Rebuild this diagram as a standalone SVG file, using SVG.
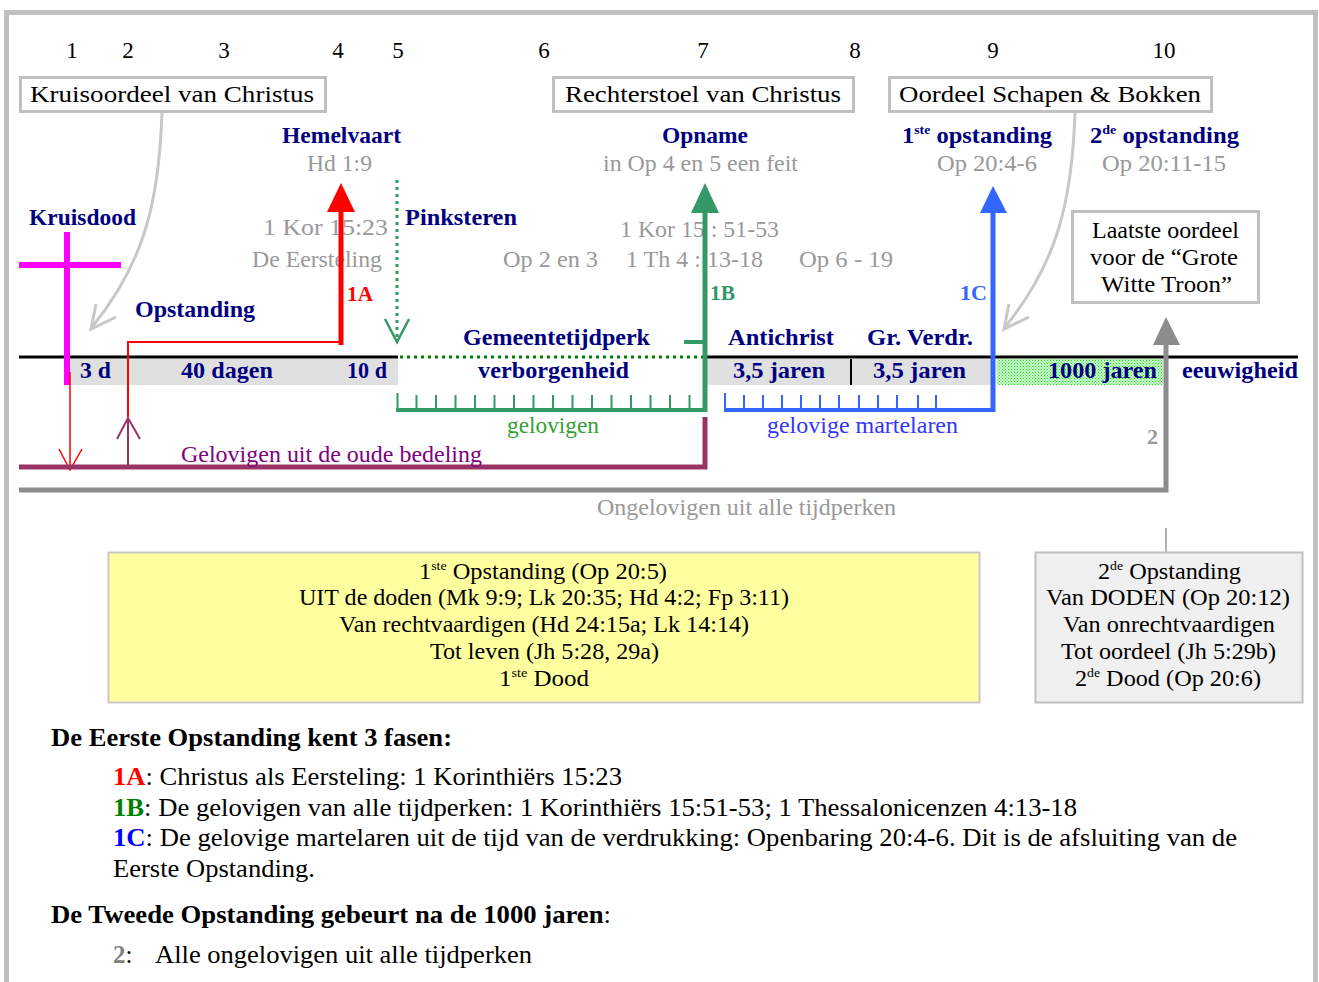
<svg xmlns="http://www.w3.org/2000/svg" width="1319" height="982" viewBox="0 0 1319 982">
<style>
text{font-family:"Liberation Serif","Times New Roman",serif}
.n{font-size:23px;fill:#000;text-anchor:middle}
.t{font-size:23px;fill:#000}
.b{font-size:23px;font-weight:bold;fill:#000080}
.g{font-size:23px;fill:#999}
.box{fill:#fff;stroke:#c0c0c0;stroke-width:3}
.p{font-size:25px;fill:#000}
.pb{font-size:25px;font-weight:bold;fill:#000}
</style>
<defs>
<pattern id="grn" width="3" height="3" patternUnits="userSpaceOnUse"><rect width="3" height="3" fill="#d8f8d8"/><rect width="1" height="1" fill="#00ee00"/><rect x="1.5" y="1.5" width="1" height="1" fill="#00ee00"/></pattern>
</defs>
<rect width="1319" height="982" fill="#fff"/>
<path d="M6.5,990 V12.5 H1315.5 V990" fill="none" stroke="#c0c0c0" stroke-width="5"/>

<g id="numbers">
<text class="n" x="72" y="58">1</text><text class="n" x="128" y="58">2</text><text class="n" x="224" y="58">3</text><text class="n" x="338" y="58">4</text><text class="n" x="398" y="58">5</text><text class="n" x="544" y="58">6</text><text class="n" x="703" y="58">7</text><text class="n" x="855" y="58">8</text><text class="n" x="993" y="58">9</text><text class="n" x="1164" y="58">10</text>
</g>

<g id="kruisoordeel"><rect class="box" x="20.5" y="77.5" width="305" height="34"/><text class="t" x="30" y="102" textLength="284" lengthAdjust="spacingAndGlyphs">Kruisoordeel van Christus</text></g>
<g id="rechterstoel"><rect class="box" x="553.5" y="77.5" width="300" height="34"/><text class="t" x="565" y="102" textLength="276" lengthAdjust="spacingAndGlyphs">Rechterstoel van Christus</text></g>
<g id="oordeel"><rect class="box" x="889.5" y="77.5" width="322" height="34"/><text class="t" x="899" y="102" textLength="302" lengthAdjust="spacingAndGlyphs">Oordeel Schapen &amp; Bokken</text></g>
<g id="laatste"><rect class="box" x="1072.5" y="211.5" width="186" height="91"/>
<text class="t" x="1092" y="238" textLength="147" lengthAdjust="spacingAndGlyphs">Laatste oordeel</text>
<text class="t" x="1090" y="265" textLength="148" lengthAdjust="spacingAndGlyphs">voor de “Grote</text>
<text class="t" x="1101" y="292" textLength="131" lengthAdjust="spacingAndGlyphs">Witte Troon”</text></g>

<g id="labels">
<text class="b" x="282" y="143" textLength="119" lengthAdjust="spacingAndGlyphs">Hemelvaart</text>
<text class="g" x="307" y="171" textLength="65" lengthAdjust="spacingAndGlyphs">Hd 1:9</text>
<text class="b" x="29" y="225" textLength="107" lengthAdjust="spacingAndGlyphs">Kruisdood</text>
<text class="g" x="263" y="235" textLength="125" lengthAdjust="spacingAndGlyphs">1 Kor 15:23</text>
<text class="g" x="252" y="267" textLength="130" lengthAdjust="spacingAndGlyphs">De Eersteling</text>
<text x="347" y="301" font-size="22" font-weight="bold" fill="#ff0000" textLength="26" lengthAdjust="spacingAndGlyphs">1A</text>
<text class="b" x="135" y="317" textLength="120" lengthAdjust="spacingAndGlyphs">Opstanding</text>
<text class="b" x="405" y="225" textLength="112" lengthAdjust="spacingAndGlyphs">Pinksteren</text>
<text class="b" x="662" y="143" textLength="86" lengthAdjust="spacingAndGlyphs">Opname</text>
<text class="g" x="603" y="171" textLength="195" lengthAdjust="spacingAndGlyphs">in Op 4 en 5 een feit</text>
<text class="g" x="620" y="237" textLength="159" lengthAdjust="spacingAndGlyphs">1 Kor 15 : 51-53</text>
<text class="g" x="503" y="267" textLength="95" lengthAdjust="spacingAndGlyphs">Op 2 en 3</text>
<text class="g" x="626" y="267" textLength="137" lengthAdjust="spacingAndGlyphs">1 Th 4 : 13-18</text>
<text class="g" x="799" y="267" textLength="94" lengthAdjust="spacingAndGlyphs">Op 6 - 19</text>
<text x="710" y="300" font-size="22" font-weight="bold" fill="#339966" textLength="25" lengthAdjust="spacingAndGlyphs">1B</text>
<text class="b" x="902" y="143" textLength="150" lengthAdjust="spacingAndGlyphs">1<tspan font-size="13" dy="-9">ste</tspan><tspan dy="9"> opstanding</tspan></text>
<text class="g" x="937" y="171" textLength="100" lengthAdjust="spacingAndGlyphs">Op 20:4-6</text>
<text class="b" x="1090" y="143" textLength="149" lengthAdjust="spacingAndGlyphs">2<tspan font-size="13" dy="-9">de</tspan><tspan dy="9"> opstanding</tspan></text>
<text class="g" x="1102" y="171" textLength="124" lengthAdjust="spacingAndGlyphs">Op 20:11-15</text>
<text x="960" y="300" font-size="22" font-weight="bold" fill="#3366ff" textLength="27" lengthAdjust="spacingAndGlyphs">1C</text>
<text class="b" x="463" y="345" textLength="187" lengthAdjust="spacingAndGlyphs">Gemeentetijdperk</text>
<text class="b" x="728" y="345" textLength="106" lengthAdjust="spacingAndGlyphs">Antichrist</text>
<text class="b" x="867" y="345" textLength="106" lengthAdjust="spacingAndGlyphs">Gr. Verdr.</text>
</g>

<g id="timeline">
<rect x="70" y="359" width="328" height="26" fill="#e0e0e0"/>
<rect x="707" y="359" width="288" height="26" fill="#e0e0e0"/>
<rect x="997" y="359" width="166" height="26" fill="url(#grn)"/>
<line x1="19" y1="357" x2="398" y2="357" stroke="#000" stroke-width="3"/>
<line x1="400" y1="357" x2="704" y2="357" stroke="#008000" stroke-width="3" stroke-dasharray="3 4"/>
<line x1="705" y1="357" x2="1298" y2="357" stroke="#000" stroke-width="3"/>
<line x1="851" y1="359" x2="851" y2="385" stroke="#000" stroke-width="2"/>
<text class="b" x="80" y="378" textLength="31" lengthAdjust="spacingAndGlyphs">3 d</text>
<text class="b" x="181" y="378" textLength="92" lengthAdjust="spacingAndGlyphs">40 dagen</text>
<text class="b" x="347" y="378" textLength="40" lengthAdjust="spacingAndGlyphs">10 d</text>
<text class="b" x="478" y="378" textLength="151" lengthAdjust="spacingAndGlyphs">verborgenheid</text>
<text class="b" x="733" y="378" textLength="92" lengthAdjust="spacingAndGlyphs">3,5 jaren</text>
<text class="b" x="873" y="378" textLength="93" lengthAdjust="spacingAndGlyphs">3,5 jaren</text>
<text class="b" x="1048" y="378" textLength="109" lengthAdjust="spacingAndGlyphs">1000 jaren</text>
<text class="b" x="1182" y="378" textLength="116" lengthAdjust="spacingAndGlyphs">eeuwigheid</text>
</g>

<g id="connectors" fill="none">
<line x1="67" y1="232" x2="67" y2="385" stroke="#ff00ff" stroke-width="6"/>
<line x1="19" y1="265" x2="121" y2="265" stroke="#ff00ff" stroke-width="6"/>
<line x1="70" y1="372" x2="70" y2="467" stroke="#ff0000" stroke-width="1.5"/>
<polyline points="59,449 70,470 82,449" stroke="#ff0000" stroke-width="1.5"/>
<path d="M162,113 C159,200 145,262 92,327" stroke="#c8c8c8" stroke-width="3"/>
<polyline points="96,304 91,329 116,317" stroke="#c8c8c8" stroke-width="3"/>
<path d="M1075,113 C1072,200 1058,262 1005,327" stroke="#c8c8c8" stroke-width="3"/>
<polyline points="1009,304 1004,329 1029,317" stroke="#c8c8c8" stroke-width="3"/>
<line x1="341" y1="210" x2="341" y2="345" stroke="#ff0000" stroke-width="5"/>
<polygon points="341,183 327,212 355,212" fill="#ff0000"/>
<polyline points="343,342 128,342 128,417" stroke="#ff0000" stroke-width="2"/>
<polyline points="19,467 705,467 705,417" stroke="#993366" stroke-width="5"/>
<line x1="128" y1="418" x2="128" y2="467" stroke="#993366" stroke-width="2"/>
<polyline points="117,439 128,418 140,439" stroke="#993366" stroke-width="2"/>
<line x1="397" y1="180" x2="397" y2="338" stroke="#339966" stroke-width="3" stroke-dasharray="3 4"/>
<polyline points="385,319 397,342 409,319" stroke="#339966" stroke-width="2.5"/>
<line x1="705" y1="210" x2="705" y2="412" stroke="#339966" stroke-width="5"/>
<polygon points="705,183 691,213 719,213" fill="#339966"/>
<line x1="684" y1="342" x2="705" y2="342" stroke="#339966" stroke-width="4"/>
<line x1="396" y1="410" x2="707" y2="410" stroke="#339966" stroke-width="4"/>
<path d="M397.5,393V410M416.5,395V410M436,395V410M455.5,395V410M475,395V410M494.5,395V410M514,395V410M533.5,395V410M553,395V410M572.5,395V410M592,395V410M611.5,395V410M631,395V410M650.5,395V410M670,395V410M689.5,395V410" stroke="#339966" stroke-width="2"/>
<line x1="993" y1="210" x2="993" y2="412" stroke="#3366ff" stroke-width="5"/>
<polygon points="993,186 980,213 1007,213" fill="#3366ff"/>
<line x1="724" y1="410" x2="995" y2="410" stroke="#3366ff" stroke-width="4"/>
<path d="M725,393V410M744,395V410M763,395V410M782,395V410M801,395V410M820,395V410M839,395V410M859,395V410M878,395V410M897,395V410M918,395V410M936,395V410" stroke="#3366ff" stroke-width="2"/>
<polyline points="19,490 1166,490 1166,340" stroke="#8c8c8c" stroke-width="5"/>
<polygon points="1166,317 1153,345 1180,345" fill="#8c8c8c"/>
<line x1="1166" y1="528" x2="1166" y2="552" stroke="#999" stroke-width="1.5"/>
</g>

<g id="lowlabels">
<text x="507" y="433" font-size="23" fill="#33a033" textLength="92" lengthAdjust="spacingAndGlyphs">gelovigen</text>
<text x="767" y="433" font-size="23" fill="#3333ff" textLength="191" lengthAdjust="spacingAndGlyphs">gelovige martelaren</text>
<text x="181" y="462" font-size="23" fill="#800080" textLength="301" lengthAdjust="spacingAndGlyphs">Gelovigen uit de oude bedeling</text>
<text x="1147" y="444" font-size="22" font-weight="bold" fill="#999" textLength="11" lengthAdjust="spacingAndGlyphs">2</text>
<text class="g" x="597" y="515" textLength="299" lengthAdjust="spacingAndGlyphs">Ongelovigen uit alle tijdperken</text>
</g>

<g id="eerste">
<rect x="108.5" y="552.5" width="871" height="150" fill="#ffffa0" stroke="#c8c8c8" stroke-width="2"/>
<text class="t" x="419" y="579" textLength="248" lengthAdjust="spacingAndGlyphs">1<tspan font-size="13" dy="-9">ste</tspan><tspan dy="9"> Opstanding (Op 20:5)</tspan></text>
<text class="t" x="299" y="605" textLength="490" lengthAdjust="spacingAndGlyphs">UIT de doden (Mk 9:9; Lk 20:35; Hd 4:2; Fp 3:11)</text>
<text class="t" x="339" y="632" textLength="410" lengthAdjust="spacingAndGlyphs">Van rechtvaardigen (Hd 24:15a; Lk 14:14)</text>
<text class="t" x="430" y="659" textLength="229" lengthAdjust="spacingAndGlyphs">Tot leven (Jh 5:28, 29a)</text>
<text class="t" x="499" y="686" textLength="90" lengthAdjust="spacingAndGlyphs">1<tspan font-size="13" dy="-9">ste</tspan><tspan dy="9"> Dood</tspan></text>
</g>

<g id="tweede">
<rect x="1035.5" y="552.5" width="267" height="150" fill="#f0f0f0" stroke="#c0c0c0" stroke-width="2"/>
<text class="t" x="1098" y="579" textLength="143" lengthAdjust="spacingAndGlyphs">2<tspan font-size="13" dy="-9">de</tspan><tspan dy="9"> Opstanding</tspan></text>
<text class="t" x="1046" y="605" textLength="244" lengthAdjust="spacingAndGlyphs">Van DODEN (Op 20:12)</text>
<text class="t" x="1063" y="632" textLength="212" lengthAdjust="spacingAndGlyphs">Van onrechtvaardigen</text>
<text class="t" x="1061" y="659" textLength="215" lengthAdjust="spacingAndGlyphs">Tot oordeel (Jh 5:29b)</text>
<text class="t" x="1075" y="686" textLength="186" lengthAdjust="spacingAndGlyphs">2<tspan font-size="13" dy="-9">de</tspan><tspan dy="9"> Dood (Op 20:6)</tspan></text>
</g>

<g id="bottomtext">
<text class="pb" x="51" y="746" textLength="401" lengthAdjust="spacingAndGlyphs">De Eerste Opstanding kent 3 fasen:</text>
<text class="p" x="113" y="785" textLength="509" lengthAdjust="spacingAndGlyphs"><tspan font-weight="bold" fill="#ff0000">1A</tspan>: Christus als Eersteling: 1 Korinthiërs 15:23</text>
<text class="p" x="113" y="816" textLength="964" lengthAdjust="spacingAndGlyphs"><tspan font-weight="bold" fill="#008000">1B</tspan>: De gelovigen van alle tijdperken: 1 Korinthiërs 15:51-53; 1 Thessalonicenzen 4:13-18</text>
<text class="p" x="113" y="846" textLength="1124" lengthAdjust="spacingAndGlyphs"><tspan font-weight="bold" fill="#0000ff">1C</tspan>: De gelovige martelaren uit de tijd van de verdrukking: Openbaring 20:4-6. Dit is de afsluiting van de</text>
<text class="p" x="113" y="877" textLength="202" lengthAdjust="spacingAndGlyphs">Eerste Opstanding.</text>
<text class="p" x="51" y="923" textLength="560" lengthAdjust="spacingAndGlyphs"><tspan font-weight="bold">De Tweede Opstanding gebeurt na de 1000 jaren</tspan>:</text>
<text class="p" x="113" y="963"><tspan font-weight="bold" fill="#808080">2</tspan>:</text>
<text class="p" x="155" y="963" textLength="377" lengthAdjust="spacingAndGlyphs">Alle ongelovigen uit alle tijdperken</text>
</g>
</svg>
